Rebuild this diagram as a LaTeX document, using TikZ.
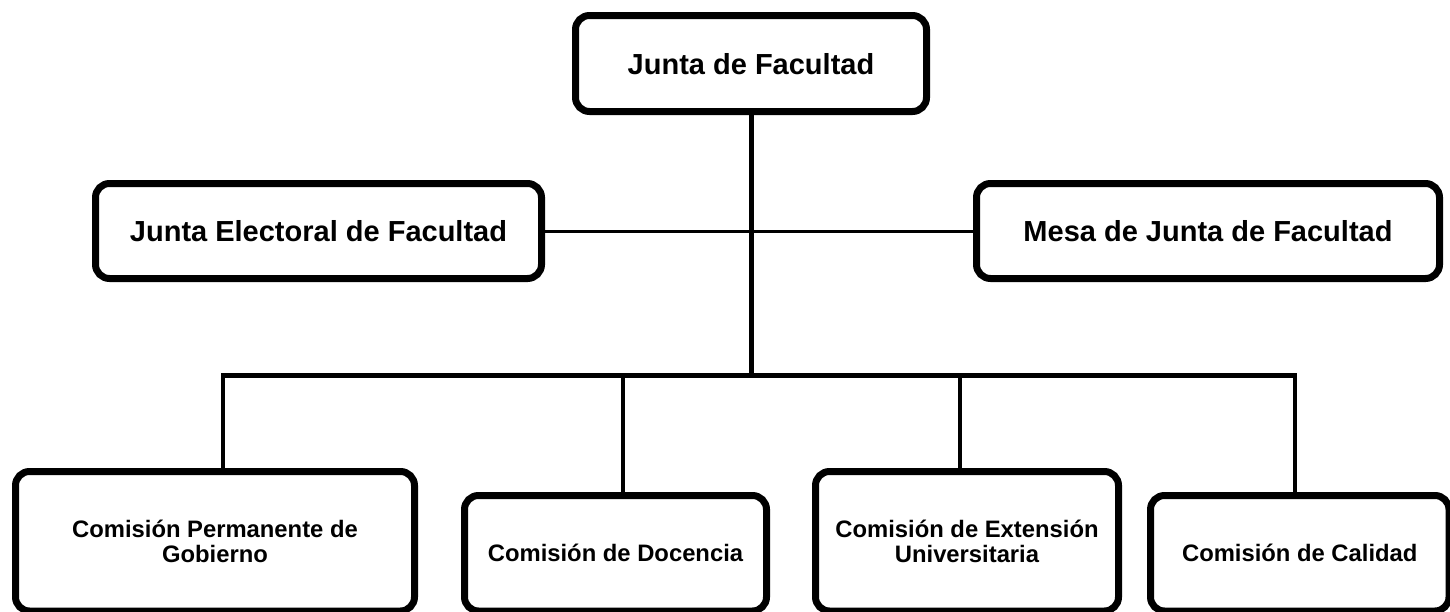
\documentclass[tikz,border=0pt]{standalone}
\usepackage{fontspec}
\setmainfont{Liberation Sans}
\begin{document}
\begin{tikzpicture}[x=1pt,y=-1pt,
  box/.style={draw=black, line width=7pt, rounded corners=14pt, fill=white,
    inner sep=0pt, align=center},
  bigtext/.style={font=\fontsize{29}{33}\selectfont\bfseries},
  smalltext/.style={font=\fontsize{23.8}{25}\selectfont\bfseries},
  conn/.style={draw=black, line width=3pt},
  trunk/.style={draw=black, line width=5pt},
  drop/.style={draw=black, line width=4pt, line cap=rect}]
\useasboundingbox (0,0) rectangle (1450,611);
\clip (0,0) rectangle (1450,611);

% boxes
\node[box, bigtext, text height=21pt, text depth=-4pt, minimum width=351pt, minimum height=96pt] (jf) at (751,63.5) {Junta de Facultad};
\node[box, bigtext, text height=21pt, text depth=-5pt, minimum width=446pt, minimum height=95pt] (el) at (318.5,231) {Junta Electoral de Facultad};
\node[box, bigtext, text height=21pt, text depth=-5pt, minimum width=463pt, minimum height=95pt] (mj) at (1208,231) {Mesa de Junta de Facultad};

\node[box, smalltext, minimum width=399pt, minimum height=139.5pt] (c1) at (215,541.25) {Comisión Permanente de\\Gobierno};
\node[box, smalltext, minimum width=302pt, minimum height=115.5pt] (c2) at (615.5,553.25) {Comisión de Docencia};
\node[box, smalltext, minimum width=303pt, minimum height=139.5pt] (c3) at (967,541.25) {Comisión de Extensión\\Universitaria};
\node[box, smalltext, minimum width=298.5pt, minimum height=115.5pt] (c4) at (1299.75,553.25) {Comisión de Calidad};

% bus coordinates
\coordinate (J) at (751,375);
\coordinate (b1) at (223,375);
\coordinate (b2) at (623,375);
\coordinate (b3) at (960,375);
\coordinate (b4) at (1295,375);

% connectors
\draw[trunk] (jf.south) -- (J);
\draw[conn] (el.east) -- (mj.west);
\draw[trunk] (b1) -- (b4);
\draw[drop] (b1) -- (b1 |- c1.north);
\draw[drop] (b2) -- (b2 |- c2.north);
\draw[drop] (b3) -- (b3 |- c3.north);
\draw[drop] (b4) -- (b4 |- c4.north);
\end{tikzpicture}
\end{document}
